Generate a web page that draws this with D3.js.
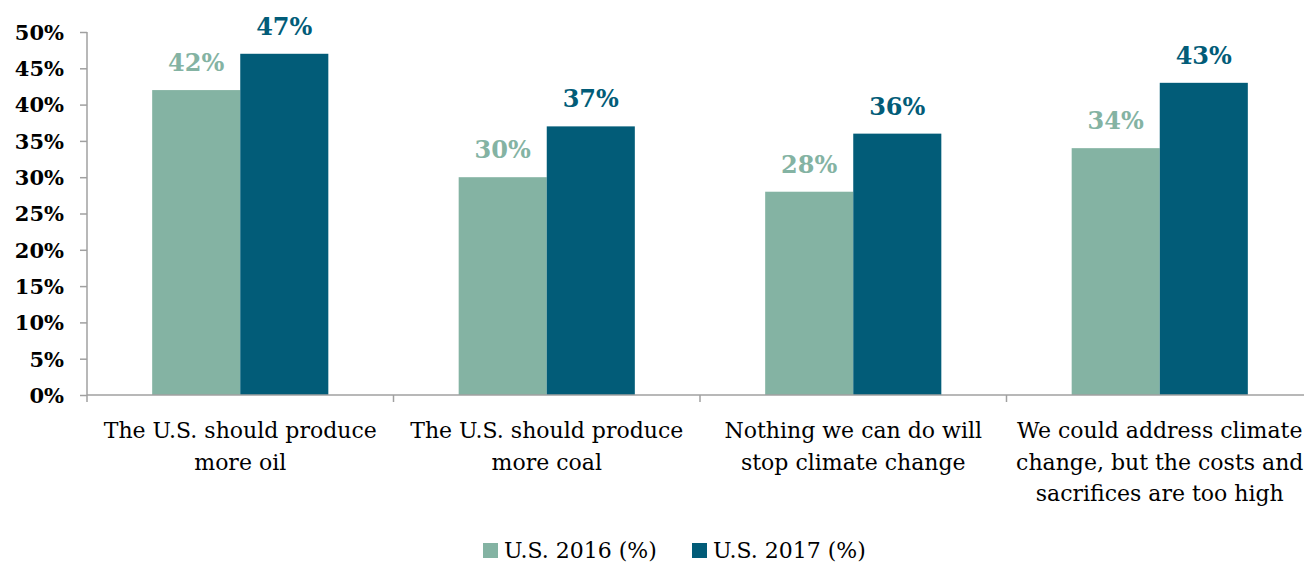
<!DOCTYPE html>
<html><head><meta charset="utf-8">
<script src="https://cdn.jsdelivr.net/npm/d3@7"></script>
<style>body{margin:0;background:#fff;overflow:hidden}svg{display:block}</style>
</head><body>
<script>
const categories = [
  ["The U.S. should produce","more oil"],
  ["The U.S. should produce","more coal"],
  ["Nothing we can do will","stop climate change"],
  ["We could address climate","change, but the costs and","sacrifices are too high"]
];
const seriesNames = ["U.S. 2016 (%)","U.S. 2017 (%)"];
const values2016 = [42,30,28,34];
const values2017 = [47,37,36,43];
const yTicks = [0,5,10,15,20,25,30,35,40,45,50];
const colors = ["#84b3a3","#025c78"];

const W=1304,H=564;
const svg=d3.select("body").append("svg").attr("width",W).attr("height",H);
const font="'DejaVu Serif', serif";
const x0=87, plotW=306.5*4;
const x=d3.scaleBand().domain(d3.range(categories.length)).range([x0,x0+plotW]).paddingInner(0).paddingOuter(0);
const xs=d3.scaleBand().domain([0,1]).range([0,x.bandwidth()]).paddingInner(0).paddingOuter(0.74);
const y=d3.scaleLinear().domain([0,50]).range([395,32]);

const series=[values2016,values2017];
series.forEach((vals,si)=>{
  svg.append("g").selectAll("rect").data(vals).join("rect")
    .attr("x",(d,i)=>x(i)+xs(si)).attr("width",xs.bandwidth())
    .attr("y",d=>y(d)).attr("height",d=>y(0)-y(d)).attr("fill",colors[si]);
  svg.append("g").selectAll("text").data(vals).join("text")
    .attr("x",(d,i)=>x(i)+xs(si)+xs.bandwidth()/2).attr("y",d=>y(d)-19)
    .attr("text-anchor","middle").attr("font-family",font).attr("font-weight","bold")
    .attr("font-size",24).attr("fill",colors[si]).text(d=>d+"%");
});

// y axis
const ya=svg.append("g").attr("transform",`translate(${x0},0)`)
  .call(d3.axisLeft(y).tickValues(yTicks).tickFormat(d=>d+"%").tickSize(7).tickPadding(16));
ya.select(".domain").attr("stroke","#a0a0a0").attr("stroke-width",1.5).attr("d",`M0,${y(50)}V${y(0)}`);
ya.selectAll(".tick line").attr("stroke","#a0a0a0").attr("stroke-width",1.5);
ya.selectAll(".tick text").attr("font-family",font).attr("font-weight","bold").attr("font-size",21).attr("fill","#000").attr("dy","0.35em");

// x axis
svg.append("line").attr("x1",x0).attr("x2",W).attr("y1",y(0)).attr("y2",y(0)).attr("stroke","#a0a0a0").attr("stroke-width",1.5);
svg.append("g").selectAll("line").data(d3.range(categories.length+1)).join("line")
  .attr("x1",i=>x0+i*x.step()).attr("x2",i=>x0+i*x.step()).attr("y1",y(0)).attr("y2",y(0)+7)
  .attr("stroke","#a0a0a0").attr("stroke-width",1.5);

categories.forEach((lines,i)=>{
  const t=svg.append("text").attr("text-anchor","middle").attr("font-family",font).attr("font-size",22).attr("fill","#000");
  lines.forEach((l,j)=>t.append("tspan").attr("x",x(i)+x.bandwidth()/2).attr("y",y(0)+43+j*31.5).text(l));
});

// legend
const lg=svg.append("g");
const lx=[483,692];
seriesNames.forEach((n,i)=>{
  lg.append("rect").attr("x",lx[i]).attr("y",543).attr("width",15).attr("height",15).attr("fill",colors[i]);
  lg.append("text").attr("x",lx[i]+21).attr("y",558).attr("font-family",font).attr("font-size",22).attr("fill","#000").text(n);
});
</script>
</body></html>
